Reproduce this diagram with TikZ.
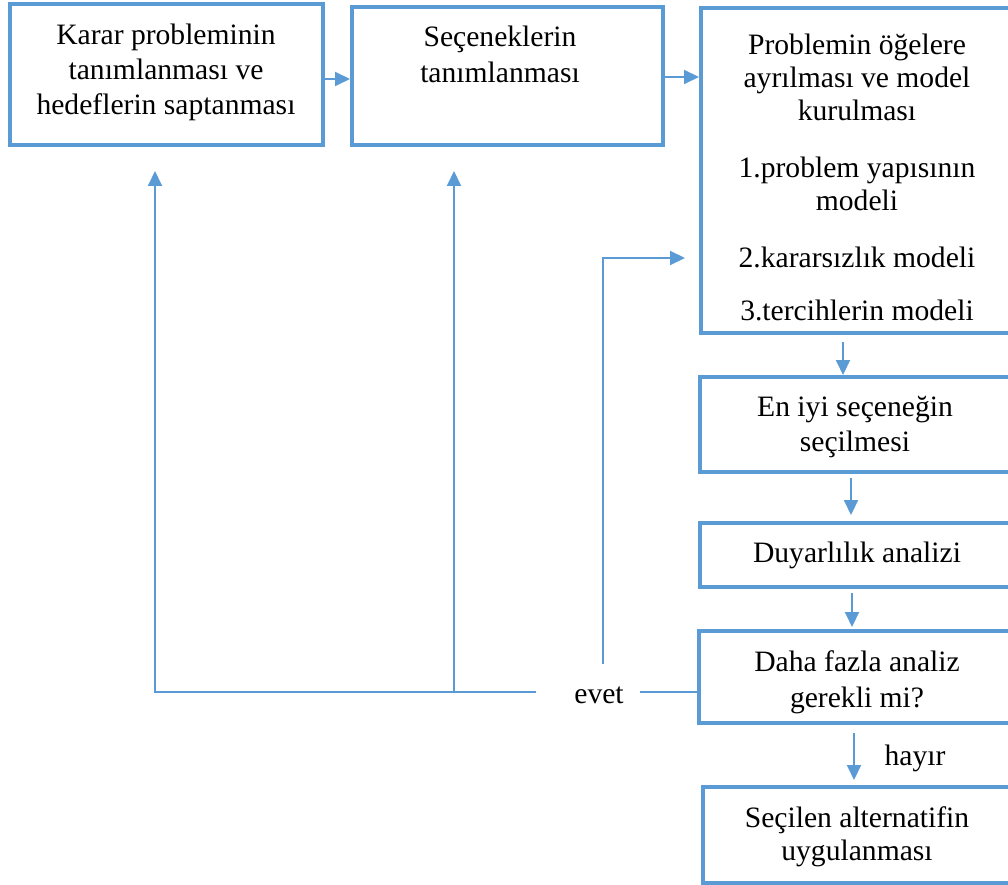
\documentclass[tikz,border=0pt]{standalone}
\usepackage{fontspec}
\setmainfont{Liberation Serif}
\usetikzlibrary{arrows.meta}
\definecolor{bl}{HTML}{5B9BD5}
\tikzset{
  box/.style={draw=bl, line width=4pt, rectangle, inner sep=0pt},
  txt/.style={align=center, font=\fontsize{29.6}{35}\selectfont, inner sep=0pt, anchor=base},
  conn/.style={draw=bl, line width=2pt},
  arr/.style={conn, -{Triangle[length=15pt,width=14pt]}},
}
\begin{document}
\begin{tikzpicture}[x=1pt,y=-1pt]
\useasboundingbox (0,0) rectangle (1008,885);
% boxes
\node[box, minimum width=313pt, minimum height=141pt] (b1) at (166.5,74.5) {};
\node[box, minimum width=311pt, minimum height=138pt] (b2) at (507.5,76) {};
\node[box, minimum width=313pt, minimum height=325pt] (b3) at (857.5,170.5) {};
\node[box, minimum width=314pt, minimum height=95pt] (b4) at (857,424.5) {};
\node[box, minimum width=314pt, minimum height=64pt] (b5) at (857,555) {};
\node[box, minimum width=315pt, minimum height=92pt] (b6) at (856.5,677) {};
\node[box, minimum width=311pt, minimum height=96pt] (b7) at (858.5,835) {};
% texts (anchor base = baseline of last line)
\node[txt] (t1) at (166,115) {Karar probleminin\\tanımlanması ve\\hedeflerin saptanması};
\node[txt, font=\fontsize{29.6}{36}\selectfont] (t2) at (500,83) {Seçeneklerin\\tanımlanması};
\node[txt, font=\fontsize{29.6}{33}\selectfont] (t3) at (857,320) {Problemin öğelere\\ayrılması ve model\\kurulması\\[24pt]1.problem yapısının\\modeli\\[24pt]2.kararsızlık modeli\\[20pt]3.tercihlerin modeli};
\node[txt] (t4) at (855,451) {En iyi seçeneğin\\seçilmesi};
\node[txt] (t5) at (857,562) {Duyarlılık analizi};
\node[txt, font=\fontsize{29.6}{36}\selectfont] (t6) at (857,707) {Daha fazla analiz\\gerekli mi?};
\node[txt, font=\fontsize{29.6}{33}\selectfont] (t7) at (857,860) {Seçilen alternatifin\\uygulanması};
\node[txt] (hayir) at (915,765) {hayır};
\node[txt] (evet) at (599,703) {evet};
% coordinates
\coordinate (evL) at (536,692);
\coordinate (evR) at (640,692);
\coordinate (c1) at (155,692);
\coordinate (c2) at (454,692);
\coordinate (a1) at (155,171);
\coordinate (a2) at (454,171);
\coordinate (v1) at (603,664);
\coordinate (v2) at (603,258);
\coordinate (a3) at (685,258);
% connectors
\draw[arr] (b1.east |- 0,79) -- (b2.west |- 0,79);
\draw[arr] (b2.east |- 0,77) -- (b3.west |- 0,77);
\draw[arr, shorten <=7pt] (b3.south -| 843,0) -- (b4.north -| 843,0);
\draw[arr, shorten <=4pt, shorten >=6pt] (b4.south -| 851,0) -- (b5.north -| 851,0);
\draw[arr, shorten <=4pt, shorten >=2pt] (b5.south -| 852,0) -- (b6.north -| 852,0);
\draw[arr, shorten <=8pt, shorten >=5pt] (b6.south -| 854,0) -- (b7.north -| 854,0);
\draw[conn] (b6.west |- evR) -- (evR);
\draw[arr] (evL) -- (c1) -- (a1);
\draw[arr] (c2) -- (a2);
\draw[arr] (v1) -- (v2) -- (a3);
\end{tikzpicture}
\end{document}
